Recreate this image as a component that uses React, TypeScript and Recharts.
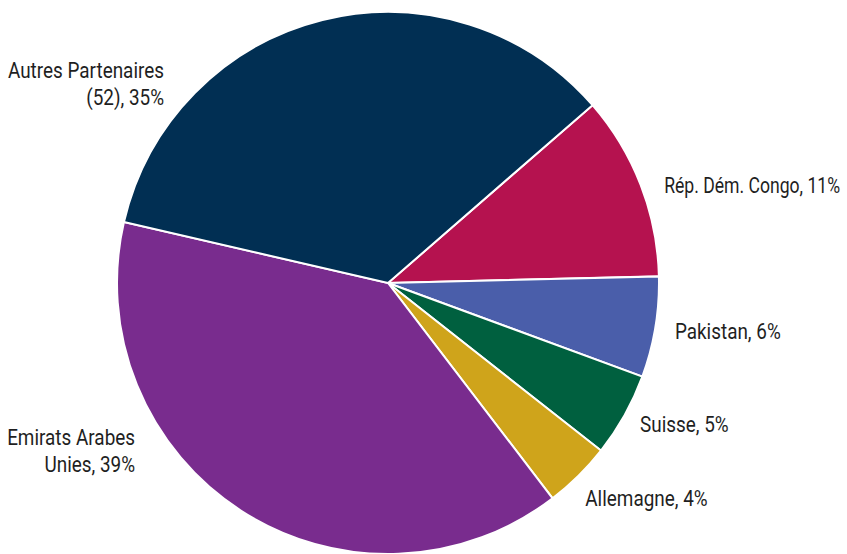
import React from "react";
import { PieChart, Pie, Cell } from "recharts";

const partners = [
  "Rép. Dém. Congo",
  "Pakistan",
  "Suisse",
  "Allemagne",
  "Emirats Arabes Unies",
  "Autres Partenaires",
];
const shares = [11, 6, 5, 4, 39, 35];
const labelLines: string[][] = [
  ["Rép. Dém. Congo, 11%"],
  ["Pakistan, 6%"],
  ["Suisse, 5%"],
  ["Allemagne, 4%"],
  ["Emirats Arabes", "Unies, 39%"],
  ["Autres Partenaires", "(52), 35%"],
];
const colors = ["#b5124f", "#4a5eaa", "#00603f", "#cfa41b", "#792c8e", "#012f53"];

// layout: label placement (angle override in degrees, radial offset, anchor, horizontal squeeze)
const labelAngle: (number | null)[] = [19.5, -9.6, -29.3, -47.5, 213.6, 138.45];
const labelRadius = [293, 291, 289, 292, 303.7, 299.3];
const labelAnchor = ["start", "start", "start", "start", "end", "end"];
const labelSqueeze = [0.8, 0.86, 0.86, 0.86, 0.86, 0.86];

const data = partners.map((p, i) => ({ name: p, value: shares[i] }));

const RAD = Math.PI / 180;
const FONT = "Roboto, 'Noto Sans', sans-serif";

const renderLabel = (props: any) => {
  const { cx, cy, midAngle, index } = props;
  const ang = labelAngle[index] ?? midAngle;
  const r = labelRadius[index];
  const x = cx + r * Math.cos(-ang * RAD);
  const y = cy + r * Math.sin(-ang * RAD);
  const lines = labelLines[index];
  const lh = 27;
  const y0 = y - ((lines.length - 1) * lh) / 2;
  return (
    <g key={`lbl-${index}`} transform={`translate(${x},0) scale(${labelSqueeze[index]},1)`}>
      <text
        x={0}
        y={y0}
        textAnchor={labelAnchor[index] as any}
        dominantBaseline="central"
        fill="#1f1f1f"
        fontSize={22}
        fontFamily={FONT}
      >
        {lines.map((l, j) => (
          <tspan key={j} x={0} y={y0 + j * lh}>
            {l}
          </tspan>
        ))}
      </text>
    </g>
  );
};

export default function App() {
  return (
    <div style={{ position: "absolute", left: 0, top: 0, width: 847, height: 554, background: "#ffffff" }}>
      <style>{`html,body{margin:0;padding:0}`}</style>
      <PieChart width={847} height={554} margin={{ top: 0, right: 0, bottom: 0, left: 0 }}>
        <Pie
          data={data}
          dataKey="value"
          nameKey="name"
          cx={388}
          cy={283}
          outerRadius={271}
          startAngle={41}
          endAngle={-319}
          stroke="#ffffff"
          strokeWidth={2}
          label={renderLabel}
          labelLine={false}
          isAnimationActive={false}
        >
          {data.map((d, i) => (
            <Cell key={d.name} fill={colors[i]} />
          ))}
        </Pie>
      </PieChart>
    </div>
  );
}
